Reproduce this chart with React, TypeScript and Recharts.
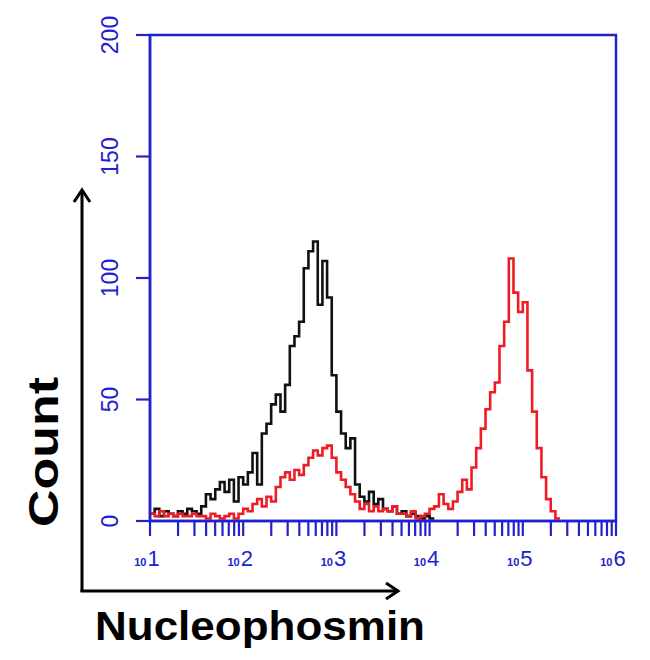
import React from 'react';
import { LineChart, Line, XAxis, YAxis, ReferenceArea } from 'recharts';

// Histogram channels: log10(start) and channel width in decades
const BIN_START = 1;
const BIN_WIDTH = 0.05;

// Isotype control (black)
const blackCounts = [
  3, 5, 2, 4, 3, 2, 4, 3, 5, 4, 3,
  6, 11, 9, 13,
  16, 12, 17, 8,
  18, 15,
  20, 28, 15,
  36, 40,
  48,
  52, 45, 56,
  72, 76, 82,
  104,
  111, 115,
  89,
  107,
  92,
  60,
  45,
  36, 30,
  34, 15,
  10, 8,
  12, 7, 9,
  5, 4, 6, 3,
  4, 2, 3, 2, 1, 2,
  1,
];

// Nucleophosmin stained (red)
const redCounts = [
  3, 2, 4, 2, 3, 2, 3, 2, 2, 3, 2,
  2, 1, 3, 2, 1, 2, 3, 1,
  3, 5, 4,
  7, 9, 6, 10,
  8,
  14, 18, 20, 17,
  21, 19, 23,
  26, 29, 27,
  30, 31,
  26, 20, 17,
  14, 11, 8,
  5, 7, 4,
  6, 4, 5, 4, 6, 3,
  3, 2, 4, 1, 2, 3,
  5, 6, 11,
  7, 5, 8,
  12, 17, 13,
  22, 30,
  38, 46,
  53, 57,
  72,
  82,
  108,
  94, 86,
  90,
  62,
  45,
  30,
  18, 9,
  4,
  1,
];

const yTicks = [0, 50, 100, 150, 200];
const decades = [10, 100, 1000, 10000, 100000, 1000000];
const exponents = ['1', '2', '3', '4', '5', '6'];
const minorMultipliers = [2, 3, 4, 5, 6, 7, 8, 9];

const xTicks = [
  ...decades,
  ...decades.slice(0, -1).flatMap((d) => minorMultipliers.map((k) => k * d)),
].sort((a, b) => a - b);

const BLUE = '#2222cc';
const RED = '#ee1c24';
const BLACK = '#111111';
const FONT = '"Liberation Sans", Arial, Helvetica, sans-serif';

function toSeries(counts: number[]) {
  const pts = counts.map((c, i) => ({ x: Math.pow(10, BIN_START + i * BIN_WIDTH), y: c }));
  pts.push({ x: Math.pow(10, BIN_START + counts.length * BIN_WIDTH), y: counts[counts.length - 1] });
  return pts;
}

const blackData = toSeries(blackCounts);
const redData = toSeries(redCounts);

const YTick = (props: any) => {
  const { x, y, payload } = props;
  const cx = x - 24;
  return (
    <text
      x={cx}
      y={y}
      transform={`rotate(-90 ${cx} ${y})`}
      textAnchor="middle"
      dominantBaseline="central"
      fill={BLUE}
      fontFamily={FONT}
      fontSize={23}
    >
      {payload.value}
    </text>
  );
};

const XTick = (props: any) => {
  const { x, y, payload } = props;
  const idx = decades.findIndex((d) => Math.abs(d - payload.value) < 1e-6 * d);
  if (idx < 0) return null;
  return (
    <text x={x - 3} y={y + 28} textAnchor="middle" fill={BLUE} fontFamily={FONT}>
      <tspan fontSize={11} fontWeight="bold">10</tspan>
      <tspan fontSize={22} dx={1}>{exponents[idx]}</tspan>
    </text>
  );
};

const XLabel = (props: any) => {
  const vb = props.viewBox || { x: 150, y: 521 };
  return (
    <text
      x={vb.x + 110}
      y={vb.y + 119}
      textAnchor="middle"
      fill="#000"
      fontFamily={FONT}
      fontWeight="bold"
      fontSize={40}
      textLength={330}
      lengthAdjust="spacingAndGlyphs"
    >
      Nucleophosmin
    </text>
  );
};

const YLabel = (props: any) => {
  const vb = props.viewBox || { x: 0, y: 35 };
  const cx = vb.x + 43;
  const cy = vb.y + 417;
  return (
    <text
      x={cx}
      y={cy}
      transform={`rotate(-90 ${cx} ${cy})`}
      textAnchor="middle"
      dominantBaseline="central"
      fill="#000"
      fontFamily={FONT}
      fontWeight="bold"
      fontSize={42}
      textLength={150}
      lengthAdjust="spacingAndGlyphs"
    >
      Count
    </text>
  );
};

export default function App() {
  return (
    <div style={{ position: 'absolute', left: 0, top: 0, width: 650, height: 660, background: '#fff' }}>
      <svg
        width={650}
        height={660}
        style={{ position: 'absolute', left: 0, top: 0, pointerEvents: 'none' }}
      >
        {/* Count arrow */}
        <line x1={82} y1={592} x2={82} y2={190} stroke="#000" strokeWidth={3} />
        <polyline points="74,202 82,190 90,202" fill="none" stroke="#000" strokeWidth={3} />
        {/* Nucleophosmin arrow */}
        <line x1={80.5} y1={591} x2={398} y2={591} stroke="#000" strokeWidth={3} />
        <polyline points="386,583 398,591 386,599" fill="none" stroke="#000" strokeWidth={3} />
      </svg>
      <div style={{ position: 'absolute', left: 0, top: 0 }}>
        <LineChart width={650} height={660} margin={{ top: 35, right: 34, left: 0, bottom: 79 }}>
          <XAxis
            dataKey="x"
            type="number"
            scale="log"
            domain={[10, 1000000]}
            ticks={xTicks}
            interval={0}
            allowDataOverflow
            height={60}
            axisLine={{ stroke: BLUE, strokeWidth: 2.5 }}
            tickLine={{ stroke: BLUE, strokeWidth: 2.2 }}
            tickSize={15}
            tick={<XTick />}
            label={<XLabel />}
          />
          <YAxis
            type="number"
            domain={[0, 200]}
            ticks={yTicks}
            interval={0}
            width={150}
            axisLine={{ stroke: BLUE, strokeWidth: 2.5 }}
            tickLine={{ stroke: BLUE, strokeWidth: 2.2 }}
            tickSize={14}
            tick={<YTick />}
            label={<YLabel />}
          />
          <ReferenceArea
            x1={10}
            x2={1000000}
            y1={0}
            y2={200}
            fill="none"
            fillOpacity={0}
            stroke={BLUE}
            strokeWidth={2.5}
            ifOverflow="visible"
          />
          <Line
            data={blackData}
            dataKey="y"
            type="stepAfter"
            stroke={BLACK}
            strokeWidth={2.6}
            dot={false}
            isAnimationActive={false}
          />
          <Line
            data={redData}
            dataKey="y"
            type="stepAfter"
            stroke={RED}
            strokeWidth={2.6}
            dot={false}
            isAnimationActive={false}
          />
        </LineChart>
      </div>
    </div>
  );
}
